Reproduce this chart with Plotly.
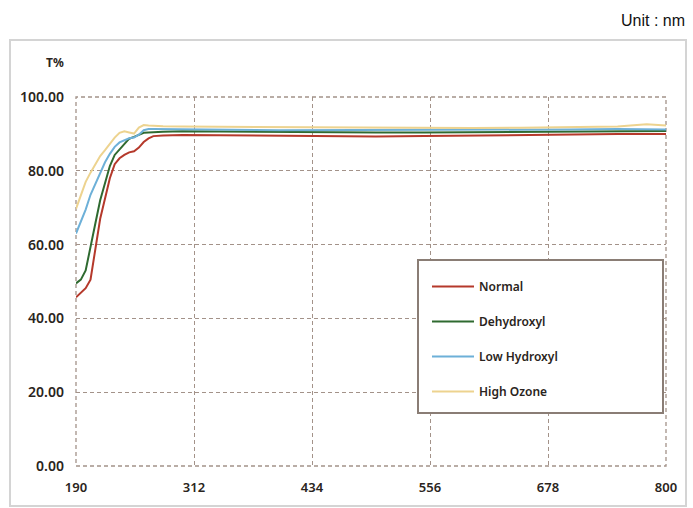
import plotly.graph_objects as go

wavelength = [190, 195, 200, 205, 210, 215, 220, 225, 230, 235, 240, 245, 250, 255, 260,
              265, 270, 280, 300, 350, 400, 450, 500, 550, 600, 650, 700, 750, 780, 800]

normal = [45.7, 47.0, 48.2, 50.5, 58.5, 67.0, 72.5, 78.0, 81.8, 83.4, 84.3, 85.0, 85.3, 86.3, 87.8,
          88.8, 89.4, 89.6, 89.7, 89.6, 89.5, 89.4, 89.3, 89.4, 89.6, 89.8, 89.9, 90.0, 90.0, 90.0]
dehydroxyl = [49.5, 50.5, 53.0, 59.0, 65.7, 72.0, 77.0, 81.3, 84.3, 85.8, 87.0, 88.7, 89.2, 89.8, 90.3,
              90.4, 90.5, 90.6, 90.7, 90.6, 90.5, 90.5, 90.4, 90.4, 90.5, 90.6, 90.7, 90.8, 90.8, 90.8]
low_hydroxyl = [63.0, 66.0, 69.5, 73.5, 76.5, 79.5, 82.3, 84.6, 86.5, 87.7, 88.3, 88.8, 89.0, 89.8, 91.0,
                91.3, 91.3, 91.3, 91.2, 91.1, 91.0, 91.0, 91.0, 91.0, 91.0, 91.1, 91.2, 91.3, 91.3, 91.2]
high_ozone = [69.7, 73.5, 77.0, 79.5, 81.8, 84.0, 85.6, 87.3, 89.0, 90.3, 90.7, 90.4, 90.1, 91.7, 92.4,
              92.3, 92.2, 92.1, 92.0, 91.9, 91.8, 91.7, 91.6, 91.6, 91.6, 91.7, 91.8, 92.0, 92.6, 92.3]

series_names = ["Normal", "Dehydroxyl", "Low Hydroxyl", "High Ozone"]
series_values = [normal, dehydroxyl, low_hydroxyl, high_ozone]
series_colors = ["#b5392b", "#2f6a30", "#6db0d8", "#edd38f"]

x_ticks = [190, 312, 434, 556, 678, 800]
y_ticks = [0, 20, 40, 60, 80, 100]
y_tick_labels = ["0.00", "20.00", "40.00", "60.00", "80.00", "100.00"]

FONT = "Noto Sans, Arial, sans-serif"
GRID = "#a39289"
DASH = "4px,3px"

fig = go.Figure()
for name, vals, col in zip(series_names, series_values, series_colors):
    fig.add_trace(go.Scatter(x=wavelength, y=vals, mode="lines", name=name, legendgroup=name,
                             line=dict(color=col, width=2)))

W, H = 693, 508
L, R, T, B = 76, 27, 97, 42
pw, ph = W - L - R, H - T - B

def px(xp):
    return (xp - L) / pw

def py(yp):
    return (H - B - yp) / ph

fig.update_layout(
    width=W, height=H,
    margin=dict(l=L, r=R, t=T, b=B),
    paper_bgcolor="white", plot_bgcolor="white",
    font=dict(family=FONT, color="#2a2420"),
    showlegend=True,
    legend=dict(x=px(427), y=py(272), xanchor="left", yanchor="top",
                bgcolor="rgba(0,0,0,0)", borderwidth=0, tracegroupgap=16,
                font=dict(size=12, family=FONT, color="#2a2420", weight=600),
                itemwidth=42),
    xaxis=dict(range=[190, 800], tickvals=x_ticks, ticktext=[str(v) for v in x_ticks],
               showgrid=True, gridcolor=GRID, griddash=DASH, gridwidth=1.3,
               zeroline=False, showline=False, ticks="", ticklabelstandoff=12,
               tickfont=dict(size=13, family=FONT, color="#2a2420", weight=600)),
    yaxis=dict(range=[0, 100], tickvals=y_ticks, ticktext=y_tick_labels,
               showgrid=True, gridcolor=GRID, griddash=DASH, gridwidth=1.3,
               zeroline=False, showline=False, ticks="", ticklabelstandoff=11,
               tickfont=dict(size=14, family=FONT, color="#2a2420", weight=600)),
    shapes=[
        dict(type="rect", xref="paper", yref="paper", x0=px(10), x1=px(686), y0=py(506), y1=py(40),
             line=dict(color="#d4d4d4", width=2), fillcolor="rgba(0,0,0,0)", layer="below"),
        dict(type="rect", xref="paper", yref="paper", x0=0, x1=1, y0=0, y1=1,
             line=dict(color=GRID, width=1.3, dash=DASH), fillcolor="rgba(0,0,0,0)", layer="below"),
        dict(type="rect", xref="paper", yref="paper", x0=px(418), x1=px(663), y0=py(413), y1=py(260),
             line=dict(color="#8a7d75", width=2), fillcolor="white", layer="above"),
    ],
    annotations=[
        dict(text="Unit : nm", xref="paper", yref="paper", x=px(687), y=py(20), xanchor="right",
             yanchor="middle", showarrow=False,
             font=dict(size=16, family="Liberation Sans, Arial, sans-serif", color="#111")),
        dict(text="T%", xref="paper", yref="paper", x=px(55), y=py(63), xanchor="center",
             yanchor="middle", showarrow=False,
             font=dict(size=12, family=FONT, color="#2a2420", weight=700)),
    ],
)

fig.write_html("out.html", config={"displayModeBar": False})

with open("out.html", "r", encoding="utf-8") as f:
    html = f.read()
html = html.replace("<head>", "<head><style>html,body{margin:0;padding:0;overflow:hidden;}</style>", 1)
with open("out.html", "w", encoding="utf-8") as f:
    f.write(html)
